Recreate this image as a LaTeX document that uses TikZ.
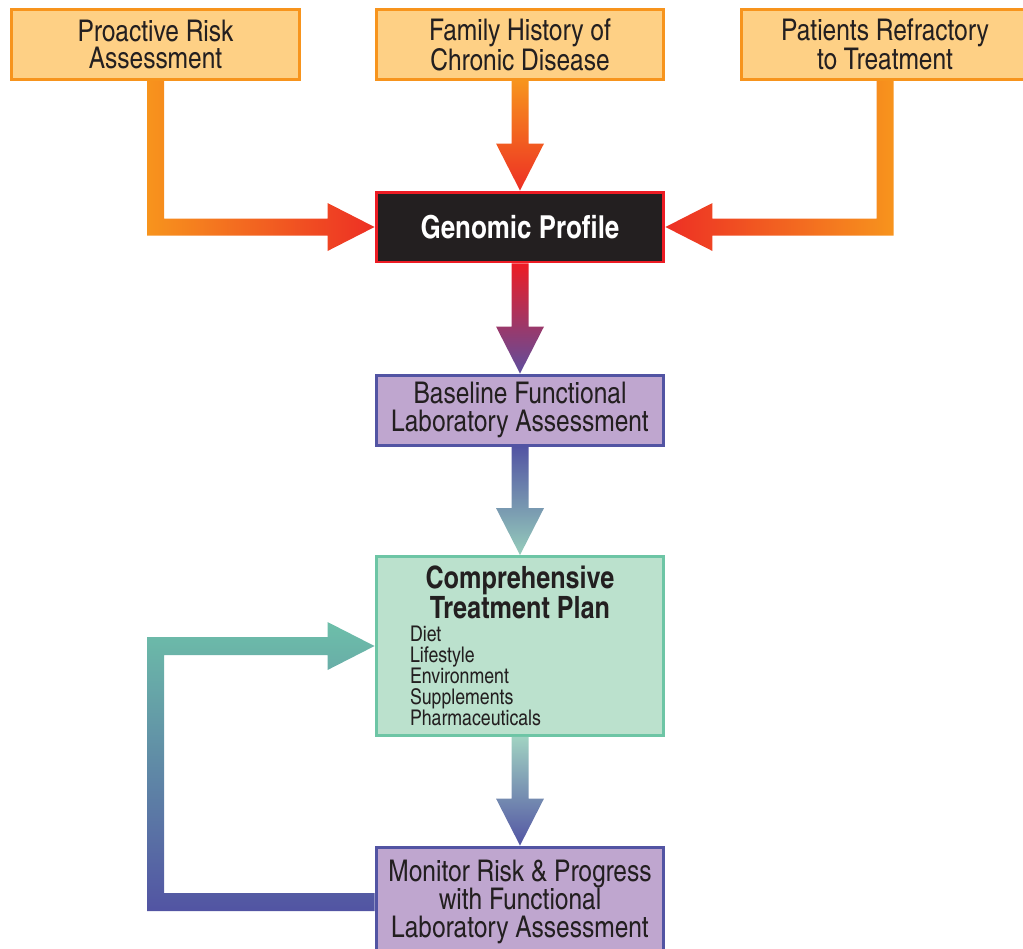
\documentclass[tikz,border=0pt]{standalone}
\usepackage{fontspec}
\setmainfont{texgyreheroscn}[Extension=.otf, UprightFont=*-regular, BoldFont=*-bold]
\usepackage{tikz}
\usetikzlibrary{calc}
\definecolor{orangeline}{HTML}{F7941D}
\definecolor{orangefill}{HTML}{FED085}
\definecolor{arrowred}{HTML}{ED2F24}
\definecolor{inkdark}{HTML}{231F20}
\definecolor{boxred}{HTML}{ED1C24}
\definecolor{purpleline}{HTML}{5254A3}
\definecolor{purplefill}{HTML}{BFA6CF}
\definecolor{greenline}{HTML}{6DC5A5}
\definecolor{greenfill}{HTML}{BBE1CD}
\definecolor{greenarrow}{HTML}{96CDBB}
\definecolor{loopteal}{HTML}{6DBFA9}
\definecolor{violet}{HTML}{5E4E9E}
\newcommand{\fatdown}[4]{%
  \shade[top color=#3, bottom color=#4]
    ($(#1.south)+(-8.5,0)$) -- ($(#2.north)+(-8.5,-47)$) -- ($(#2.north)+(-24,-47)$)
    -- (#2.north) -- ($(#2.north)+(24,-47)$) -- ($(#2.north)+(8.5,-47)$)
    -- ($(#1.south)+(8.5,0)$) -- cycle;}

\begin{document}
\begin{tikzpicture}[x=0.02cm, y=-0.02cm,
  box/.style={draw, line width=1.7pt, minimum width=5.76cm, minimum height=1.4cm,
    align=center, text=inkdark, font=\fontsize{17}{15.8}\selectfont},
  sourcebox/.style={box, draw=orangeline, fill=orangefill},
  genebox/.style={box, draw=boxred, fill=inkdark, text=white, font=\fontsize{18}{15}\selectfont\bfseries},
  labbox/.style={box, draw=purpleline, fill=purplefill},
  planbox/.style={box, draw=greenline, fill=greenfill, minimum height=3.58cm, inner sep=0pt}]
\useasboundingbox (0,0) rectangle (1023,948);

% sources
\node[sourcebox] (risk) at (155.5,44.5) {Proactive Risk\\Assessment};
\node[sourcebox] (family) at (520,44.5) {Family History of\\Chronic Disease};
\node[sourcebox] (refractory) at (885,44.5) {Patients Refractory\\to Treatment};

% main column
\node[genebox] (genomic) at (520,227) {Genomic Profile};
\node[labbox] (baseline) at (520,410) {Baseline Functional\\Laboratory Assessment};
\node[planbox] (plan) at (520,646) {\begin{minipage}{4.4cm}\centering
  {\fontsize{17.5}{15.5}\selectfont\bfseries Comprehensive\\Treatment Plan\par}
  \vspace{1pt}\raggedright\fontsize{12.3}{12}\selectfont
  Diet\\Lifestyle\\Environment\\Supplements\\Pharmaceuticals\end{minipage}};
\node[labbox, minimum height=2.2cm, font=\fontsize{17}{16}\selectfont] (monitor) at (520,902)
  {Monitor Risk \& Progress\\with Functional\\Laboratory Assessment};

% elbow arrows into the genomic profile
\shade[left color=orangeline, right color=arrowred]
  ($(risk.south)+(-8.5,0)$) -- ($(risk.south |- genomic.west)+(-8.5,8.5)$)
  -- ($(genomic.west)+(-47,8.5)$) -- ($(genomic.west)+(-47,24)$) -- (genomic.west)
  -- ($(genomic.west)+(-47,-24)$) -- ($(genomic.west)+(-47,-8.5)$)
  -- ($(risk.south |- genomic.west)+(8.5,-8.5)$) -- ($(risk.south)+(8.5,0)$) -- cycle;
\shade[right color=orangeline, left color=arrowred]
  ($(refractory.south)+(8.5,0)$) -- ($(refractory.south |- genomic.east)+(8.5,8.5)$)
  -- ($(genomic.east)+(47,8.5)$) -- ($(genomic.east)+(47,24)$) -- (genomic.east)
  -- ($(genomic.east)+(47,-24)$) -- ($(genomic.east)+(47,-8.5)$)
  -- ($(refractory.south |- genomic.east)+(-8.5,-8.5)$) -- ($(refractory.south)+(-8.5,0)$) -- cycle;

% straight arrows down the column
\fatdown{family}{genomic}{orangeline}{arrowred}
\fatdown{genomic}{baseline}{boxred}{violet}
\fatdown{baseline}{plan}{purpleline}{greenarrow}
\fatdown{plan}{monitor}{greenarrow!90!white}{purpleline}

% feedback loop
\shade[top color=loopteal, bottom color=purpleline]
  ($(monitor.west)+(0,9)$) -- ($(risk.south |- monitor.west)+(-8.5,9)$)
  -- ($(risk.south |- plan.west)+(-8.5,-9)$) -- ($(plan.west)+(-47,-9)$)
  -- ($(plan.west)+(-47,-24)$) -- (plan.west) -- ($(plan.west)+(-47,24)$)
  -- ($(plan.west)+(-47,9)$) -- ($(risk.south |- plan.west)+(8.5,9)$)
  -- ($(risk.south |- monitor.west)+(8.5,-9)$) -- ($(monitor.west)+(0,-9)$) -- cycle;
\end{tikzpicture}
\end{document}
